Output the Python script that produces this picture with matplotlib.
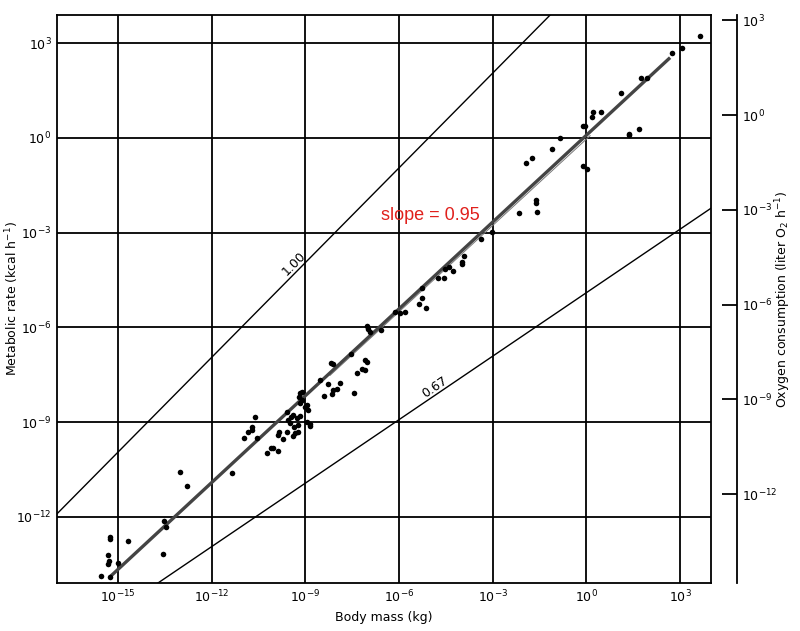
import numpy as np
import matplotlib
matplotlib.use("Agg")
import matplotlib.pyplot as plt

# ---- data (log10 values) ----
mass_log = [
    -13.01, -12.80, -13.52, -13.47, -15.25, -15.25, -14.69, -15.31, -15.29, -15.31, -14.99, -13.55, -15.55, -15.25,
    -11.34, -10.61, -10.70, -10.70, -10.85, -10.97, -10.56, -10.24, -10.11, -10.03, -9.88, -9.88, -9.83, -9.71,
    -9.60, -9.39, -9.55, -9.49, -9.46, -9.39, -9.60, -9.33, -9.22, -9.36, -9.22, -9.17, -9.12, -9.19, -9.17,
    -8.96, -8.90, -8.85, -9.28, -9.17, -8.96, -8.85, -9.12, -9.01,
    -7.03, -6.98, -6.93, -6.58, -7.54, -8.18, -8.12, -7.09, -7.03, -7.35, -7.19, -7.09, -8.53, -8.28, -7.89,
    -8.00, -8.10, -8.16, -8.39, -7.43,
    -6.13, -5.97, -5.81, -5.25, -5.25, -5.35, -5.13, -4.76, -4.55, -4.53, -4.39, -4.26, -3.99, -3.97, -3.91,
    -3.38, -3.03,
    1.10, 0.22, 0.46, 0.17, -0.12, -0.04, 1.35, 1.38, 1.67, -0.84, -1.11, -1.73, -1.93, -0.12, 0.01,
    -1.62, -1.62, -2.15, -1.57, 1.74, 1.95, 2.75, 3.07, 3.64,
]
rate_log = [
    -10.57, -11.01, -12.13, -12.31, -12.64, -12.71, -12.75, -13.21, -13.39, -13.50, -13.47, -13.18, -13.87, -13.89,
    -10.62, -8.83, -9.16, -9.25, -9.32, -9.49, -9.49, -9.97, -9.83, -9.83, -9.91, -9.41, -9.30, -9.52,
    -9.30, -9.44, -8.93, -9.03, -8.83, -8.77, -8.67, -9.35, -9.30, -9.14, -9.09, -8.40, -8.30, -8.19, -8.09,
    -8.46, -8.61, -9.07, -8.88, -8.80, -8.98, -9.12, -8.03, -8.53,
    -5.95, -6.06, -6.14, -6.08, -6.85, -7.12, -7.17, -7.03, -7.09, -7.45, -7.33, -7.35, -7.66, -7.80, -7.75,
    -7.95, -7.98, -8.11, -8.17, -8.09,
    -5.50, -5.53, -5.50, -4.74, -5.06, -5.25, -5.38, -4.43, -4.43, -4.16, -4.08, -4.21, -3.92, -4.00, -3.73,
    -3.21, -2.97,
    1.43, 0.81, 0.81, 0.65, 0.38, 0.38, 0.09, 0.11, 0.27, 0.00, -0.35, -0.63, -0.81, -0.89, -0.97,
    -2.07, -1.98, -2.37, -2.36, 1.88, 1.90, 2.69, 2.85, 3.22,
]

# fitted regression line (thick) and secondary thin line, endpoints in log10
fit_mass_log = [-15.26, 2.68]
fit_rate_log = [-13.90, 2.54]
thin_mass_log = [-8.21, 0.12]
thin_rate_log = [-7.52, 0.07]

# reference lines: log(rate) = slope*log(mass) + intercept
ref_slopes = [1.00, 0.67]
ref_intercepts = [5.05, -4.90]
ref_labels = ["1.00", "0.67"]
ref_label_mass_log = [-9.2, -4.75]

x_ticks_log = [-15, -12, -9, -6, -3, 0, 3]
y_ticks_log = [-12, -9, -6, -3, 0, 3]
o2_ticks_log = [-12, -9, -6, -3, 0, 3]
kcal_per_liter_o2 = 5.3

xlim_log = (-16.95, 3.99)
ylim_log = (-14.09, 3.89)

# ---- figure ----
fig = plt.figure(figsize=(8.0, 6.31), dpi=100)
ax = fig.add_axes([57/800, 1-583/631, 654/800, 568/631])
ax.set_xscale("log")
ax.set_yscale("log")
ax.set_xlim(10**xlim_log[0], 10**xlim_log[1])
ax.set_ylim(10**ylim_log[0], 10**ylim_log[1])

for v in x_ticks_log:
    ax.axvline(10.0**v, color="black", lw=1.3, zorder=1)
for v in y_ticks_log:
    ax.axhline(10.0**v, color="black", lw=1.3, zorder=1)

# reference lines
xs = np.array(xlim_log)
for s, b, lab, lm in zip(ref_slopes, ref_intercepts, ref_labels, ref_label_mass_log):
    ax.plot(10**xs, 10**(s*xs + b), color="black", lw=1.0, zorder=2)
    p1 = ax.transData.transform((10**lm, 10**(s*lm + b)))
    p2 = ax.transData.transform((10**(lm+1), 10**(s*(lm+1) + b)))
    ang = np.degrees(np.arctan2(p2[1]-p1[1], p2[0]-p1[0]))
    ax.annotate(lab, (10**lm, 10**(s*lm + b)), xytext=(0, 0.5), textcoords="offset points",
                rotation=ang, rotation_mode="anchor", ha="center", va="bottom",
                fontsize=9, zorder=4)

# thin secondary line and thick fit line
ax.plot(10**np.array(thin_mass_log), 10**np.array(thin_rate_log), color="#777777", lw=0.7, zorder=2)
ax.plot(10**np.array(fit_mass_log), 10**np.array(fit_rate_log), color="#444444", lw=2.4,
        solid_capstyle="butt", zorder=3)

ax.scatter(10**np.array(mass_log), 10**np.array(rate_log), s=16, color="black", zorder=5, linewidths=0)

ax.text(10**(-5.0), 10**(-2.45), "slope = 0.95", color="#e0201c", fontsize=13,
        family="Liberation Sans", ha="center", va="center", zorder=6)

ax.set_xticks([10.0**v for v in x_ticks_log])
ax.set_xticklabels([r"$10^{%d}$" % v for v in x_ticks_log])
ax.set_yticks([10.0**v for v in y_ticks_log])
ax.set_yticklabels([r"$10^{%d}$" % v for v in y_ticks_log])
ax.minorticks_off()
ax.tick_params(axis="both", length=0, labelsize=9, pad=4)
for sp in ax.spines.values():
    sp.set_linewidth(1.3)

ax.set_xlabel("Body mass (kg)", fontsize=9)
ax.xaxis.set_label_coords(0.5, -(617-583)/568, transform=ax.transAxes)
ax.xaxis.label.set_va("center")
ax.set_ylabel(r"Metabolic rate (kcal h$^{-1}$)", fontsize=9)
ax.yaxis.set_label_coords((12-57)/654, 0.5)
ax.yaxis.label.set_va("center")

# right-hand oxygen axis
ax2 = ax.twinx()
ax2.set_yscale("log")
ax2.set_ylim(10**ylim_log[0]/kcal_per_liter_o2, 10**ylim_log[1]/kcal_per_liter_o2)
for k in ["top", "bottom", "left"]:
    ax2.spines[k].set_visible(False)
ax2.spines["right"].set_position(("outward", 19))
ax2.spines["right"].set_linewidth(1.3)
ax2.set_yticks([10.0**v for v in o2_ticks_log])
ax2.set_yticklabels([r"$10^{%d}$" % v for v in o2_ticks_log])
ax2.minorticks_off()
ax2.tick_params(axis="y", direction="in", length=11, width=1.3, labelsize=9, pad=3)
ax2.set_ylabel(r"Oxygen consumption (liter O$_2$ h$^{-1}$)", fontsize=9)
ax2.yaxis.set_label_coords((783-57)/654, 0.5)
ax2.yaxis.label.set_va("center")

fig.savefig("out.png", dpi=100)
